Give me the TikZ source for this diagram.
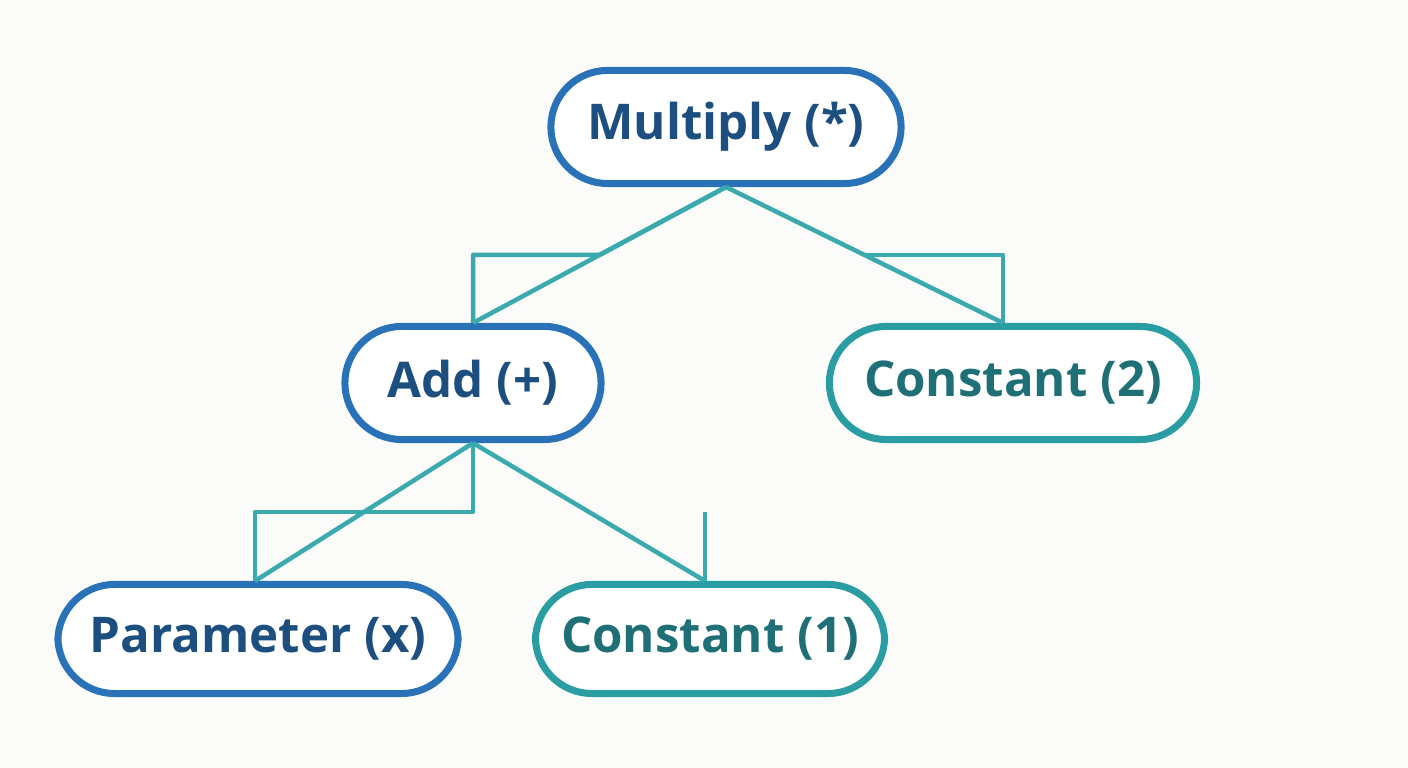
\documentclass[tikz,border=0pt]{standalone}
\usepackage{fontspec}
\setmainfont{Open Sans}
\usepackage{tikz}
\usetikzlibrary{arrows.meta, positioning, calc}

\definecolor{bgcol}{HTML}{FBFBF9}
\definecolor{bluebd}{HTML}{2A72B8}
\definecolor{bluetx}{HTML}{1C4F80}
\definecolor{tealbd}{HTML}{2A9DA2}
\definecolor{tealtx}{HTML}{1E6F76}
\definecolor{linkcol}{HTML}{3AAAAE}

\begin{document}
\begin{tikzpicture}[
  x=0.01cm, y=-0.01cm,
  pill/.style={
    draw,
    fill=white,
    line width=0.07cm,
    rounded corners=0.565cm,
    minimum height=1.13cm,
    inner xsep=2pt,
    align=center,
    font=\fontsize{14}{16}\selectfont\bfseries
  },
  opnode/.style={pill, draw=bluebd, text=bluetx},
  leafnode/.style={pill, draw=tealbd, text=tealtx},
  link/.style={draw=linkcol, line width=0.045cm, line join=round}
]

% Canvas
\useasboundingbox[fill=bgcol] (0,0) rectangle (1408,768);

% Operators
\node[opnode, minimum width=3.5cm] (mul) at (726,127) {Multiply (*)};
\node[opnode, minimum width=2.56cm] (add) at (473,383) {Add (+)};

% Leaves
\node[leafnode, minimum width=3.67cm] (const2) at (1013,383) {Constant (2)};
\node[opnode, minimum width=4.0cm, minimum height=1.09cm] (param) at (258,639) {Parameter (x)};
\node[leafnode, minimum width=3.49cm, minimum height=1.09cm] (const1) at (710,639) {Constant (1)};

% Connectors, upper level
\draw[link] (mul.south) -- (add.north);
\draw[link] (mul.south) -- ([xshift=-0.1cm]const2.north);
\draw[link] (mul.south) -- ($(mul.south)!0.5!(add.north)$) -| (add.north);
\coordinate (midright) at ($(mul.south)!0.5!([xshift=-0.1cm]const2.north)$);
\draw[link] (midright) -| ([xshift=-0.1cm]const2.north);

% Connectors, lower level
\draw[link] (add.south) -- ([xshift=-0.03cm]param.north);
\draw[link] (add.south) -- ([xshift=-0.05cm]const1.north);
\coordinate (midleft) at ($(add.south)!0.5!([xshift=-0.03cm]param.north)$);
\draw[link] (add.south) -- (add.south |- midleft) -| ([xshift=-0.03cm]param.north);
\draw[link] ([xshift=-0.05cm]const1.north) -- ([xshift=-0.05cm]const1.north |- midleft);

\end{tikzpicture}
\end{document}
